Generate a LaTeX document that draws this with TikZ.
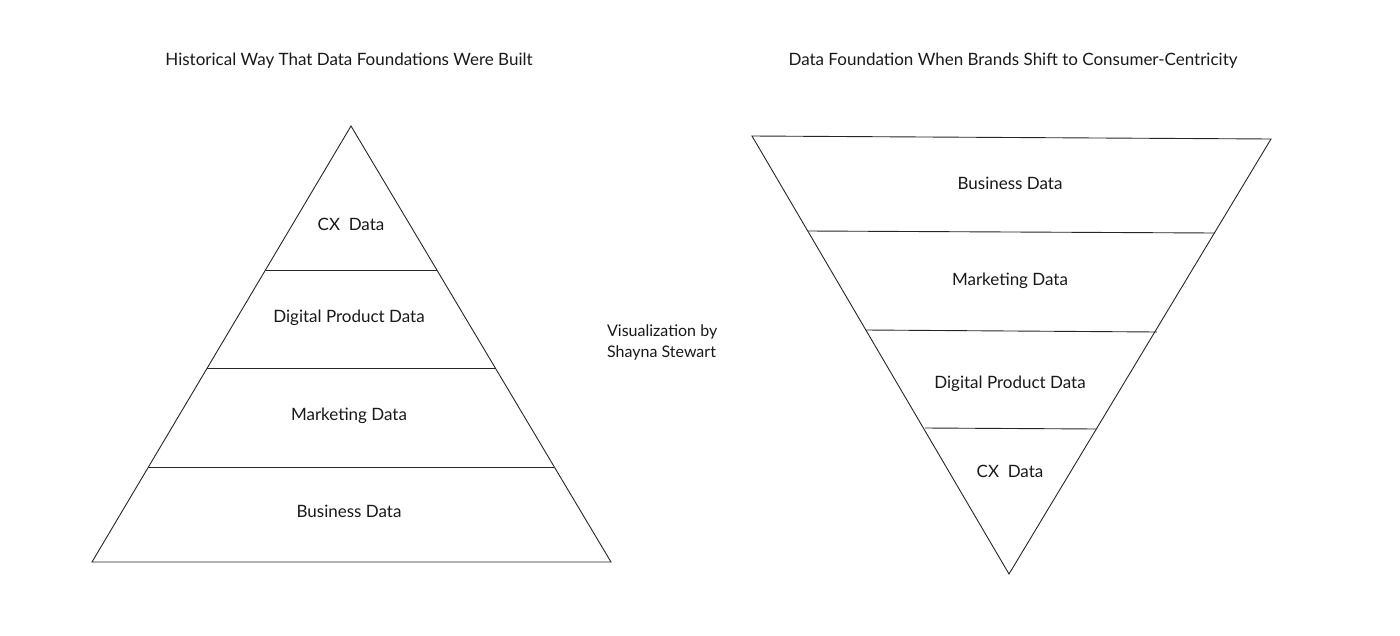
\documentclass[tikz,border=0pt]{standalone}
\usepackage{fontspec}
\setmainfont{Lato}
\tikzset{every picture/.style={line width=0.75pt}}
\tikzset{
  layer/.style={draw=black!85, line width=0.9pt},
  label/.style={inner sep=0.75pt, font=\fontsize{17}{20}\selectfont, text=black!90},
}

\begin{document}
\begin{tikzpicture}[x=1pt,y=1pt,yscale=-1,xscale=1]
        \useasboundingbox (0,0) rectangle (1400,635);

        %Shape: Triangle [id:pyramid]
        \coordinate (pa) at (351,126);
        \coordinate (pl) at (92,562);
        \coordinate (pr) at (611,562);
        \draw [layer] (pa) -- (pl) -- (pr) -- cycle ;
        %Straight Lines [id:pyramid layers]
        \draw [layer] (266,270) -- (437,270) ;
        \draw [layer] (207,368) -- (496,368) ;
        \draw [layer] (148,467) -- (554,467) ;

        %Shape: Triangle [id:funnel]
        \coordinate (fl) at (752,136);
        \coordinate (fr) at (1271,139);
        \coordinate (fa) at (1009,574);
        \draw [layer] (fl) -- (fr) -- (fa) -- cycle ;
        %Straight Lines [id:funnel layers]
        \draw [layer] (808,231) -- (1215,233) ;
        \draw [layer] (866,330) -- (1157,332) ;
        \draw [layer] (925,428) -- (1097,429) ;

        % Text Node
        \node [label] (ptitle) at (349,61) {Historical Way That Data Foundations Were Built};
        \node [label] (ftitle) at (1013,61) {Data Foundation When Brands Shift to Consumer-Centricity};
        % Text Node
        \node [label] (pcx) at (351,224) {CX\ \ Data};
        \node [label] (pdig) at (349,318) {Digital Product Data};
        \node [label] (pmkt) at (349,416) {Marketing Data};
        \node [label] (pbus) at (349,511) {Business Data};
        % Text Node
        \node [label] (fbus) at (1010,183) {Business Data};
        \node [label] (fmkt) at (1010,281) {Marketing Data};
        \node [label] (fdig) at (1010,384) {Digital Product Data};
        \node [label] (fcx) at (1010,471) {CX\ \ Data};
        % Text Node
        \node [label, anchor=west, align=left, font=\fontsize{16}{20}\selectfont] (credit) at (606,342) {Visualization by\\[1pt]Shayna Stewart};

\end{tikzpicture}
\end{document}
